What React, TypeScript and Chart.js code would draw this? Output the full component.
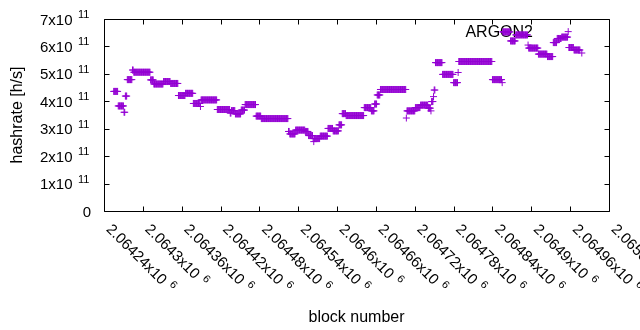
import React, { useEffect, useRef } from 'react';
import { Chart, registerables } from 'chart.js';

Chart.register(...registerables);

// Run-length data: each run covers consecutive block numbers with one hashrate (x1e11 h/s)
const segStart = [
  2064255, 2064262, 2064271, 2064273, 2064276, 2064284, 2064286, 2064312, 2064317, 2064332,
  2064343, 2064355, 2064366, 2064378, 2064389, 2064390, 2064415, 2064435, 2064437, 2064443,
  2064452, 2064458, 2064475, 2064483, 2064525, 2064527, 2064536, 2064551, 2064556, 2064563,
  2064564, 2064565, 2064574, 2064586, 2064594, 2064603, 2064608, 2064614, 2064642, 2064653,
  2064658, 2064662, 2064667, 2064707, 2064708, 2064721, 2064729, 2064741, 2064745, 2064746,
  2064749, 2064750, 2064752, 2064763, 2064780, 2064787, 2064788, 2064840, 2064855, 2064856,
  2064868, 2064876, 2064895, 2064896, 2064911, 2064925, 2064934, 2064940, 2064947, 2064957,
  2064958, 2064966, 2064978,
];
const segEnd = [
  2064261, 2064270, 2064272, 2064275, 2064283, 2064285, 2064311, 2064316, 2064331, 2064342,
  2064354, 2064365, 2064377, 2064388, 2064389, 2064414, 2064434, 2064436, 2064442, 2064451,
  2064457, 2064474, 2064482, 2064524, 2064526, 2064535, 2064550, 2064555, 2064562, 2064563,
  2064564, 2064573, 2064585, 2064593, 2064602, 2064607, 2064613, 2064641, 2064652, 2064657,
  2064661, 2064666, 2064706, 2064707, 2064720, 2064728, 2064740, 2064744, 2064745, 2064748,
  2064749, 2064751, 2064762, 2064779, 2064786, 2064787, 2064839, 2064854, 2064855, 2064867,
  2064875, 2064894, 2064895, 2064910, 2064924, 2064933, 2064939, 2064946, 2064956, 2064957,
  2064965, 2064975, 2064978,
];
const segValue = [
  4.36, 3.83, 3.60, 4.19, 4.79, 5.14, 5.06, 4.78, 4.63, 4.72,
  4.65, 4.21, 4.29, 3.92, 3.81, 4.05, 3.70, 3.57, 3.66, 3.54,
  3.68, 3.88, 3.46, 3.37, 2.90, 2.81, 2.95, 2.90, 2.75, 2.64,
  2.53, 2.64, 2.73, 3.01, 2.92, 3.14, 3.55, 3.48, 3.77, 3.65,
  3.90, 4.23, 4.43, 3.39, 3.65, 3.77, 3.86, 3.75, 3.65, 3.99,
  4.17, 4.41, 5.41, 4.98, 4.68, 5.05, 5.45, 4.79, 4.68, 6.53,
  6.20, 6.42, 6.05, 5.94, 5.72, 5.63, 6.14, 6.29, 6.34, 6.54,
  5.96, 5.87, 5.76,
];
const valueScale = 1e11;

const seriesLabel = 'ARGON2';
const xTitle = 'block number';
const yTitle = 'hashrate [h/s]';

const xMin = 2064240;
const xMax = 2065020;
const xTickValues = [
  2064240, 2064300, 2064360, 2064420, 2064480, 2064540, 2064600,
  2064660, 2064720, 2064780, 2064840, 2064900, 2064960, 2065020,
];
const xTickLabels = [
  '2.06424x10', '2.0643x10', '2.06436x10', '2.06442x10', '2.06448x10', '2.06454x10', '2.0646x10',
  '2.06466x10', '2.06472x10', '2.06478x10', '2.06484x10', '2.0649x10', '2.06496x10', '2.06502x10',
];
const xTickExponent = '6';

const yMin = 0;
const yMax = 7e11;
const yTickValues = [0, 1e11, 2e11, 3e11, 4e11, 5e11, 6e11, 7e11];
const yTickLabels = ['0', '1x10', '2x10', '3x10', '4x10', '5x10', '6x10', '7x10'];
const yTickExponents = ['', '11', '11', '11', '11', '11', '11', '11'];

const COLOR = '#9400d3';
const FONT = '"Liberation Sans", Arial, sans-serif';

const framePlugin = {
  id: 'gnuplotFrame',
  beforeDatasetsDraw(chart: any) {
    const { ctx, chartArea: a, scales } = chart;
    const xs = scales.x;
    const ys = scales.y;
    const L = Math.round(a.left) + 0.5;
    const R = Math.round(a.right) + 0.5;
    const T = Math.round(a.top) + 0.5;
    const B = Math.round(a.bottom) + 0.5;
    ctx.save();
    ctx.strokeStyle = '#000';
    ctx.lineWidth = 1;
    ctx.beginPath();
    ctx.rect(L, T, R - L, B - T);
    const tl = 5;
    yTickValues.forEach((v) => {
      const y = Math.round(ys.getPixelForValue(v)) + 0.5;
      ctx.moveTo(L, y); ctx.lineTo(L + tl, y);
      ctx.moveTo(R, y); ctx.lineTo(R - tl, y);
    });
    xTickValues.forEach((v) => {
      const x = Math.round(xs.getPixelForValue(v)) + 0.5;
      ctx.moveTo(x, B); ctx.lineTo(x, B - tl);
      ctx.moveTo(x, T); ctx.lineTo(x, T + tl);
    });
    ctx.stroke();

    ctx.fillStyle = '#000';
    ctx.textBaseline = 'alphabetic';
    // y tick labels
    yTickValues.forEach((v, i) => {
      const y = ys.getPixelForValue(v);
      const exp = yTickExponents[i];
      if (exp) {
        ctx.font = '15px ' + FONT;
        ctx.textAlign = 'right';
        ctx.fillText(yTickLabels[i], a.left - 31.5, y + 5.5);
        ctx.font = '11px ' + FONT;
        ctx.textAlign = 'left';
        ctx.fillText(exp, a.left - 26, y - 1);
      } else {
        ctx.font = '15px ' + FONT;
        ctx.textAlign = 'right';
        ctx.fillText(yTickLabels[i], a.left - 13, y + 5.5);
      }
    });
    // x tick labels, rotated -45 (reading downwards)
    xTickValues.forEach((v, i) => {
      const x = xs.getPixelForValue(v);
      ctx.save();
      ctx.translate(x + 1.5, a.bottom + 19);
      ctx.rotate(Math.PI / 4);
      ctx.font = '15px ' + FONT;
      ctx.textAlign = 'left';
      ctx.fillText(xTickLabels[i], 0, 0);
      const w = ctx.measureText(xTickLabels[i]).width;
      ctx.font = '11px ' + FONT;
      ctx.fillText(xTickExponent, w + 5.5, -6);
      ctx.restore();
    });
    // axis titles
    ctx.font = '16px ' + FONT;
    ctx.textAlign = 'center';
    ctx.fillText(xTitle, (a.left + a.right) / 2, 322);
    ctx.save();
    ctx.translate(21.5, (a.top + a.bottom) / 2);
    ctx.rotate(-Math.PI / 2);
    ctx.fillText(yTitle, 0, 0);
    ctx.restore();
    // key
    ctx.textAlign = 'right';
    ctx.fillText(seriesLabel, 533, 37);
    ctx.restore();
  },
};

export default function App() {
  const ref = useRef<HTMLCanvasElement | null>(null);
  useEffect(() => {
    const canvas = ref.current;
    if (!canvas) return;
    const points: { x: number; y: number }[] = [];
    for (let i = 0; i < segStart.length; i++) {
      for (let b = segStart[i]; b <= segEnd[i]; b++) {
        points.push({ x: b, y: segValue[i] * valueScale });
      }
    }
    const chart = new Chart(canvas, {
      type: 'scatter',
      data: {
        datasets: [
          {
            label: seriesLabel,
            data: points,
            pointStyle: 'cross',
            pointRadius: 3.5,
            pointBorderWidth: 1,
            borderColor: COLOR,
            backgroundColor: COLOR,
            showLine: false,
          } as any,
        ],
      },
      options: {
        animation: false,
        responsive: false,
        devicePixelRatio: 1,
        layout: { padding: { left: 104, top: 19, right: 31, bottom: 119 } },
        scales: {
          x: { type: 'linear', min: xMin, max: xMax, display: false },
          y: { type: 'linear', min: yMin, max: yMax, display: false },
        },
        plugins: { legend: { display: false }, tooltip: { enabled: false } },
      },
      plugins: [framePlugin],
    });
    return () => chart.destroy();
  }, []);
  return (
    <div style={{ position: 'fixed', left: 0, top: 0, width: 640, height: 330, background: '#fff' }}>
      <canvas ref={ref} width={640} height={330} style={{ width: 640, height: 330, display: 'block' }} />
    </div>
  );
}
